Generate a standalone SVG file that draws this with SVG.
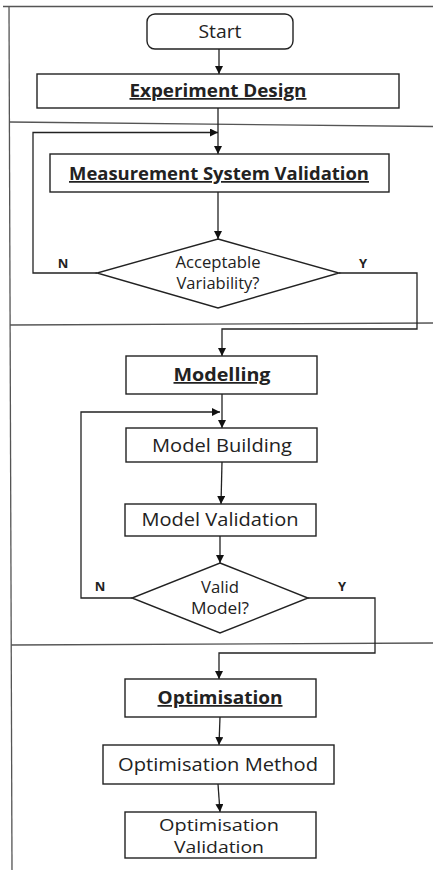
<svg xmlns="http://www.w3.org/2000/svg" width="433" height="872" viewBox="0 0 433 872">
<style>
.box{fill:#fff;stroke:#222;stroke-width:1.4}
.sep{fill:none;stroke:#555;stroke-width:1.3}
.con{fill:none;stroke:#222;stroke-width:1.3}
.t{font-family:"Open Sans","Liberation Sans",sans-serif;font-size:18.5px;fill:#222;text-anchor:middle}
.b{font-weight:bold;font-size:17.5px;text-decoration:underline}
.d{font-size:15.5px}
.s{font-size:16.5px}
.lab{font-family:"Open Sans","Liberation Sans",sans-serif;font-size:13px;font-weight:bold;fill:#222;text-anchor:middle}
</style>
<defs>
<marker id="ah" viewBox="0 0 10 10" refX="10" refY="5" markerWidth="8" markerHeight="8" markerUnits="userSpaceOnUse" orient="auto">
<path d="M0,0 L10,5 L0,10 Z" fill="#111"/>
</marker>
</defs>
<rect width="433" height="872" fill="#fff"/>
<g id="frame">
<line class="sep" x1="3" y1="6.5" x2="433" y2="6.5"/>
<line class="sep" x1="9" y1="6.5" x2="12" y2="870"/>
<line class="sep" x1="9" y1="122" x2="433" y2="126.5"/>
<line class="sep" x1="10" y1="325" x2="433" y2="323"/>
<line class="sep" x1="11" y1="645" x2="433" y2="643"/>
</g>
<g id="connectors">
<line class="con" x1="219" y1="49" x2="219" y2="74" marker-end="url(#ah)"/>
<line class="con" x1="218" y1="108" x2="218" y2="154" marker-end="url(#ah)"/>
<polyline class="con" points="97,273 33,273 33,132.5 218,132.5" marker-end="url(#ah)"/>
<line class="con" x1="218" y1="192" x2="218" y2="239" marker-end="url(#ah)"/>
<polyline class="con" points="339,273 417,273 417,329 222,329 222,356" marker-end="url(#ah)"/>
<line class="con" x1="222" y1="394" x2="222" y2="428" marker-end="url(#ah)"/>
<polyline class="con" points="132,598 81,598 81,412 220,412" marker-end="url(#ah)"/>
<line class="con" x1="222" y1="462" x2="221" y2="504" marker-end="url(#ah)"/>
<line class="con" x1="220" y1="536" x2="220" y2="563" marker-end="url(#ah)"/>
<polyline class="con" points="308,598 375,598 375,653 219,653 219,679" marker-end="url(#ah)"/>
<line class="con" x1="220" y1="717" x2="219" y2="745" marker-end="url(#ah)"/>
<line class="con" x1="218" y1="784" x2="220" y2="812" marker-end="url(#ah)"/>
<text class="lab" x="63" y="268">N</text>
<text class="lab" x="363" y="268">Y</text>
<text class="lab" x="100" y="591">N</text>
<text class="lab" x="342" y="591">Y</text>
</g>
<g id="start">
<rect class="box" x="147" y="14" width="146" height="35" rx="8"/>
<text class="t" x="220" y="38" textLength="43" lengthAdjust="spacingAndGlyphs">Start</text>
</g>
<g id="experiment-design">
<rect class="box" x="37" y="74" width="362" height="34"/>
<text class="t b" x="218" y="97" textLength="177" lengthAdjust="spacingAndGlyphs">Experiment Design</text>
</g>
<g id="measurement">
<rect class="box" x="50" y="154" width="339" height="38"/>
<text class="t b" x="219" y="180" textLength="300" lengthAdjust="spacingAndGlyphs">Measurement System Validation</text>
</g>
<g id="acceptable">
<polygon class="box" points="218,239 339,273 218,308 97,273"/>
<text class="t d" x="218" y="268" textLength="85" lengthAdjust="spacingAndGlyphs">Acceptable</text>
<text class="t d" x="218" y="289" textLength="83" lengthAdjust="spacingAndGlyphs">Variability?</text>
</g>
<g id="modelling">
<rect class="box" x="126" y="356" width="191" height="38"/>
<text class="t b" x="222" y="381" textLength="97" lengthAdjust="spacingAndGlyphs">Modelling</text>
</g>
<g id="model-building">
<rect class="box" x="126" y="428" width="191" height="34"/>
<text class="t" x="222" y="452" textLength="140" lengthAdjust="spacingAndGlyphs">Model Building</text>
</g>
<g id="model-validation">
<rect class="box" x="125" y="504" width="191" height="32"/>
<text class="t" x="220" y="526" textLength="157" lengthAdjust="spacingAndGlyphs">Model Validation</text>
</g>
<g id="valid-model">
<polygon class="box" points="220,563 308,598 220,633 132,598"/>
<text class="t d" x="220" y="593" textLength="38" lengthAdjust="spacingAndGlyphs">Valid</text>
<text class="t d" x="220" y="614" textLength="58" lengthAdjust="spacingAndGlyphs">Model?</text>
</g>
<g id="optimisation">
<rect class="box" x="125" y="679" width="191" height="38"/>
<text class="t b" x="220" y="704" textLength="125" lengthAdjust="spacingAndGlyphs">Optimisation</text>
</g>
<g id="optimisation-method">
<rect class="box" x="103" y="745" width="231" height="39"/>
<text class="t" x="218" y="771" textLength="200" lengthAdjust="spacingAndGlyphs">Optimisation Method</text>
</g>
<g id="optimisation-validation">
<rect class="box" x="125" y="812" width="191" height="46"/>
<text class="t s" x="219" y="831" textLength="120" lengthAdjust="spacingAndGlyphs">Optimisation</text>
<text class="t s" x="219" y="853" textLength="90" lengthAdjust="spacingAndGlyphs">Validation</text>
</g>
</svg>
